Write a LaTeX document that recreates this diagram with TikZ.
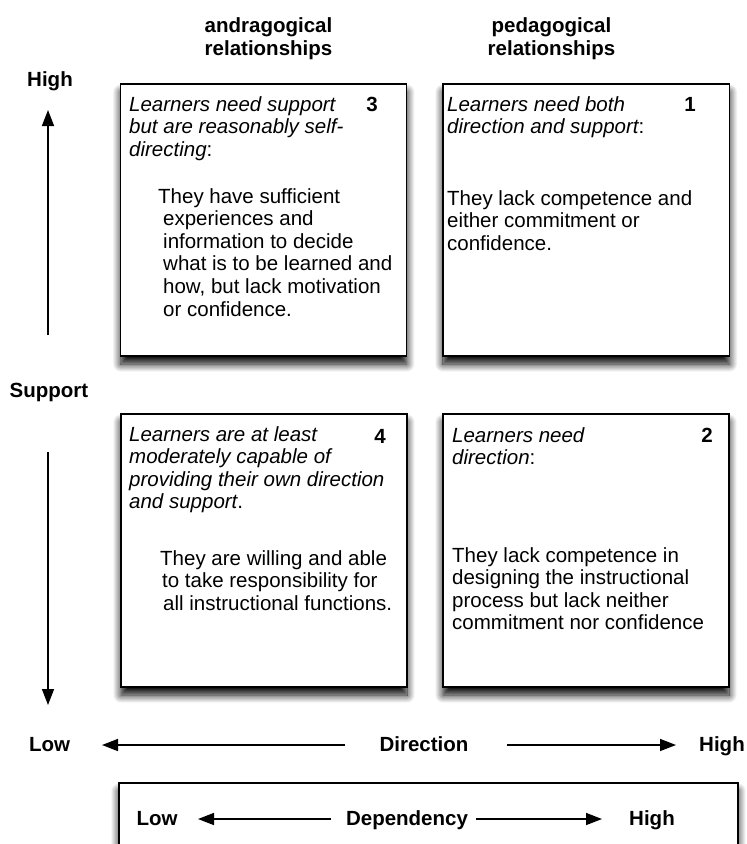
\documentclass[tikz,border=0pt]{standalone}
\usepackage{fontspec}
\setmainfont{Liberation Sans}
\usetikzlibrary{arrows.meta,shadows.blur}
\newcommand{\lstack}[1]{\vtop{\baselineskip=22.6pt\lineskip=0pt\lineskiplimit=-100pt\halign{##\hfil\cr#1\crcr}}}
\newcommand{\cstack}[1]{\vtop{\baselineskip=23pt\lineskip=0pt\lineskiplimit=-100pt\halign{\hfil##\hfil\cr#1\crcr}}}
\begin{document}
\begin{tikzpicture}[x=1pt,y=-1pt,
  qbox/.style={draw=black,line width=1.3pt,fill=white,inner sep=0pt,
    blur shadow={shadow xshift=0pt,shadow yshift=-8pt,shadow blur radius=8pt,shadow blur steps=12,shadow opacity=100}},
  txt/.style={inner sep=0pt,anchor=base west,font=\fontsize{20.5}{22.6}\selectfont},
  it/.style={inner sep=0pt,anchor=base west,font=\fontsize{20.5}{22.6}\selectfont\itshape},
  bf/.style={inner sep=0pt,anchor=base,font=\fontsize{20.5}{22.6}\selectfont\bfseries},
  arr/.style={line width=1.5pt,-{Triangle[length=16pt,width=12pt]}}]
\useasboundingbox (0,0) rectangle (747,844);
\clip (0,0) rectangle (747,844);
% headers
\node[bf] (h1) at (268.5,32) {\cstack{andragogical\cr relationships}};
\node[bf] (h2) at (551.5,32) {\cstack{pedagogical\cr relationships}};
% boxes
\node[qbox,minimum width=286pt,minimum height=272pt] (b3) at (263.8,220) {};
\node[qbox,minimum width=286.5pt,minimum height=272pt] (b1) at (586.2,220) {};
\node[qbox,minimum width=286pt,minimum height=273pt] (b4) at (264,550.5) {};
\node[qbox,minimum width=286pt,minimum height=273pt] (b2) at (586,550.5) {};
\node[qbox,minimum width=619pt,minimum height=87pt] (bd) at (428.5,826.5) {};
% box 3
\node[it] (t3h) at (129,111) {\lstack{Learners need support\cr but are reasonably self-\cr directing{\upshape :}}};
\node[txt] (t3b) at (163,203) {\lstack{\kern-5pt They have sufficient\cr experiences and\cr information to decide\cr what is to be learned and\cr how, but lack motivation\cr or confidence.}};
\node[bf] (n3) at (372,111) {3};
% box 1
\node[it] (t1h) at (447,111) {\lstack{Learners need both\cr direction and support{\upshape :}}};
\node[txt] (t1b) at (447,205) {\lstack{They lack competence and\cr either commitment or\cr confidence.}};
\node[bf] (n1) at (690,111) {1};
% box 4
\node[it] (t4h) at (129,441) {\lstack{Learners are at least\cr moderately capable of\cr providing their own direction\cr and support{\upshape .}}};
\node[txt] (t4b) at (162,565) {\lstack{\kern-2pt They are willing and able\cr to take responsibility for\cr \kern1pt all instructional functions.}};
\node[bf] (n4) at (380,443) {4};
% box 2
\node[it] (t2h) at (452,442) {\lstack{Learners need\cr direction{\upshape :}}};
\node[txt] (t2b) at (452,562) {\lstack{They lack competence in\cr designing the instructional\cr process but lack neither\cr commitment nor confidence}};
\node[bf] (n2) at (707,442) {2};
% support axis
\node[bf] (shi) at (50,86) {High};
\node[bf] (sup) at (49,397) {Support};
\coordinate (us) at (48,335);
\coordinate (ue) at (48,110);
\coordinate (ds) at (48,452);
\coordinate (de) at (48,705);
\draw[arr] (us) -- (ue);
\draw[arr] (ds) -- (de);
% direction axis
\node[bf] (dlo) at (49.5,751) {Low};
\node[bf] (dir) at (424,751) {Direction};
\node[bf] (dhi) at (722,751) {High};
\coordinate (dls) at (345,745);
\coordinate (dle) at (102,745);
\coordinate (drs) at (507,745);
\coordinate (dre) at (676,745);
\draw[arr] (dls) -- (dle);
\draw[arr] (drs) -- (dre);
% dependency axis
\node[bf] (plo) at (157,825) {Low};
\node[bf] (dep) at (407,825) {Dependency};
\node[bf] (phi) at (652,825) {High};
\coordinate (pls) at (331,819);
\coordinate (ple) at (198,819);
\coordinate (prs) at (476,819);
\coordinate (pre) at (602,819);
\draw[arr] (pls) -- (ple);
\draw[arr] (prs) -- (pre);
\end{tikzpicture}
\end{document}
